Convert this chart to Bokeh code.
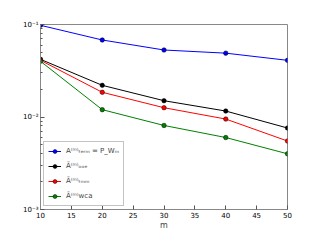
from bokeh.plotting import figure
from bokeh.models import Legend, LegendItem, CustomJSTickFormatter, FixedTicker, Range1d
from bokeh.embed import file_html
from bokeh.resources import INLINE

m_vals = [10, 20, 30, 40, 50]
a_term = [0.098, 0.068, 0.053, 0.049, 0.041]
a_ooe = [0.042, 0.022, 0.015, 0.0116, 0.0076]
a_tmm = [0.041, 0.0185, 0.0126, 0.0095, 0.0055]
a_wca = [0.040, 0.012, 0.0081, 0.0060, 0.0040]
labels = ["A⁽ᵐ⁾ₜₑᵣₘ = P_Wₘ", "Ã⁽ᵐ⁾ₒₒₑ", "Ã⁽ᵐ⁾ₜₘₘ", "Ã⁽ᵐ⁾wca"]
colors = ["#0000ff", "#000000", "#ff0000", "#008000"]
x_ticks = [10, 15, 20, 25, 30, 35, 40, 45, 50]
y_ticks = [1e-3, 1e-2, 1e-1]
y_minor = [k * 1e-3 for k in range(2, 10)] + [k * 1e-2 for k in range(2, 10)]

p = figure(width=312, height=232, y_axis_type="log", output_backend="svg",
           toolbar_location=None, x_range=Range1d(10, 50), y_range=Range1d(1e-3, 1e-1),
           min_border_left=40, min_border_right=25, min_border_top=24, min_border_bottom=10)
p.grid.visible = False
p.outline_line_color = "#888888"
p.background_fill_color = "white"

fmt = CustomJSTickFormatter(code="""
const e = Math.round(Math.log10(tick));
const sup = {'-':'⁻','0':'⁰','1':'¹','2':'²','3':'³','4':'⁴','5':'⁵','6':'⁶','7':'⁷','8':'⁸','9':'⁹'};
return '10' + String(e).split('').map(c => sup[c]).join('');
""")

for ax in [p.xaxis[0], p.yaxis[0]]:
    ax.axis_line_color = "#888888"
    ax.major_tick_in = 4
    ax.major_tick_out = 0
    ax.minor_tick_in = 2
    ax.minor_tick_out = 0
    ax.major_tick_line_color = "#555555"
    ax.minor_tick_line_color = "#555555"
    ax.major_label_text_font_size = "7px"
    ax.major_label_text_font = "DejaVu Sans"
    ax.major_label_text_color = "black"
    ax.major_label_standoff = 2
p.xaxis.ticker = FixedTicker(ticks=x_ticks)
p.yaxis.ticker = FixedTicker(ticks=y_ticks, minor_ticks=y_minor)
p.yaxis.formatter = fmt
p.xaxis.axis_label = "m"
p.xaxis.axis_label_text_font_size = "8px"
p.xaxis.axis_label_text_font = "DejaVu Sans"
p.xaxis.axis_label_text_font_style = "normal"
p.xaxis.axis_label_standoff = 0

items = []
for vals, lab, col in zip([a_term, a_ooe, a_tmm, a_wca], labels, colors):
    r1 = p.line(m_vals, vals, line_color=col, line_width=1)
    r2 = p.scatter(m_vals, vals, marker="circle", size=4.5, fill_color=col, line_color="black", line_width=0.5)
    items.append(LegendItem(label=lab, renderers=[r1, r2]))

legend = Legend(items=items, location="bottom_left", border_line_color="#888888",
                border_line_width=1.5,
                label_text_font_size="7px", label_text_font="DejaVu Sans",
                glyph_width=13, glyph_height=10, label_height=10, spacing=5,
                padding=4, margin=3, label_standoff=5, background_fill_alpha=1)
p.add_layout(legend)

open("out.html", "w").write(file_html(p, INLINE))
